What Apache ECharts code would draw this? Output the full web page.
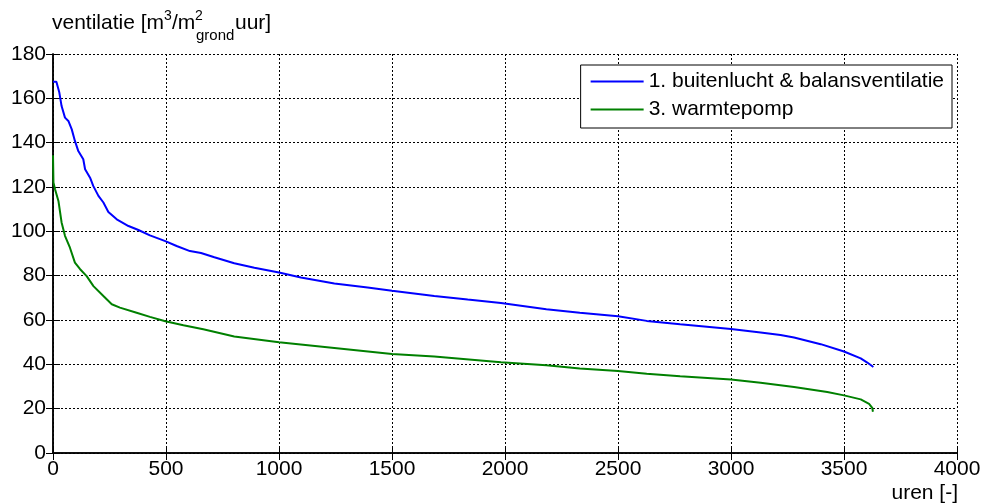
<!DOCTYPE html>
<html>
<head>
<meta charset="utf-8">
<script src="https://cdn.jsdelivr.net/npm/echarts@6/dist/echarts.min.js"></script>
<style>
  html, body { margin: 0; padding: 0; background: #fff; }
  #chart { width: 984px; height: 504px; }
</style>
</head>
<body>
<div id="chart"></div>
<script>
// duration curves (hours vs ventilation)
var blueHours = [0, 15, 28, 38, 53, 68, 83, 97, 112, 134, 142, 164, 178, 201, 223, 245, 282, 334, 378, 429,
    497, 547, 606, 655, 714, 802, 891, 1000, 1097, 1245, 1392, 1500, 1687, 1835, 1982, 2183, 2331, 2500,
    2627, 2775, 3000, 3131, 3219, 3279, 3397, 3500, 3574, 3603, 3630];
var blueVent = [167.5, 167.5, 162.6, 156.5, 151.3, 149.8, 146, 140.8, 136.2, 132.5, 128, 124.2, 120.5, 116, 113,
    108.7, 105.4, 102.4, 100.6, 98.2, 95.6, 93.4, 91.1, 90.2, 88.3, 85.6, 83.6, 81.4, 79.2, 76.5, 74.7, 73.2,
    70.8, 69.2, 67.7, 64.8, 63.3, 61.7, 59.6, 58.1, 55.9, 54.4, 53.2, 52.1, 49.1, 45.8, 42.7, 40.8, 38.8];

var greenHours = [0, 2, 9, 24, 38, 53, 75, 97, 120, 149, 179, 223, 260, 296, 370, 429, 497, 577, 665, 802,
    1000, 1245, 1500, 1687, 1982, 2183, 2331, 2500, 2627, 2775, 3000, 3131, 3279, 3426, 3500, 3574, 3611,
    3625, 3628];
var greenVent = [134.3, 122, 119, 113.7, 104, 98, 92.6, 85.9, 82.9, 79.8, 75.3, 70.8, 67.1, 65.6, 63.3, 61.4,
    59.4, 57.6, 55.8, 52.6, 50, 47.4, 44.7, 43.5, 40.9, 39.6, 38.1, 37.0, 35.8, 34.6, 33.2, 31.7, 29.8, 27.5,
    26.0, 24.2, 22.2, 20.4, 18.6];

var seriesNames = ['1. buitenlucht & balansventilatie', '3. warmtepomp'];
var seriesColors = ['#0000ff', '#008000'];

function pairs(xs, ys) {
    var out = [];
    for (var i = 0; i < xs.length; i++) {
        out.push([xs[i], ys[i]]);
    }
    return out;
}

var font = 'Liberation Sans, Arial, sans-serif';
var chart = echarts.init(document.getElementById('chart'));

// top and right axes only close the box (MATLAB style), ticks point inward
var boxAxis = {
    axisLine: { show: true, lineStyle: { color: '#000', width: 1.5 } },
    axisTick: { show: true, inside: true, length: 7, lineStyle: { color: '#000' } },
    axisLabel: { show: false },
    splitLine: { show: false }
};

chart.setOption({
    animation: false,
    grid: { left: 53, right: 27, top: 54, bottom: 51 },
    legend: {
        orient: 'vertical',
        right: 32,
        top: 65,
        data: seriesNames,
        selectedMode: false,
        icon: 'rect',
        backgroundColor: '#fff',
        borderColor: '#000',
        borderWidth: 1,
        padding: [6, 8, 8, 10],
        itemGap: 7,
        itemWidth: 53,
        itemHeight: 2,
        textStyle: { fontFamily: font, fontSize: 21, color: '#000', lineHeight: 21 }
    },
    xAxis: [{
        type: 'value', min: 0, max: 4000, interval: 500,
        axisLine: { show: true, onZero: false, lineStyle: { color: '#000', width: 1.5 } },
        axisTick: { show: true, inside: true, length: 7, lineStyle: { color: '#000' } },
        axisLabel: { color: '#000', fontFamily: font, fontSize: 21, margin: 6,
            formatter: function (v) { return String(v); } },
        splitLine: { show: true, lineStyle: { color: '#000', width: 1, type: [2, 2] } }
    }, Object.assign({ type: 'value', min: 0, max: 4000, interval: 500, position: 'top' }, boxAxis)],
    yAxis: [{
        type: 'value', min: 0, max: 180, interval: 20,
        axisLine: { show: true, onZero: false, lineStyle: { color: '#000', width: 1.5 } },
        axisTick: { show: true, inside: true, length: 7, lineStyle: { color: '#000' } },
        axisLabel: { color: '#000', fontFamily: font, fontSize: 21, margin: 7 },
        splitLine: { show: true, lineStyle: { color: '#000', width: 1, type: [2, 2] } }
    }, Object.assign({ type: 'value', min: 0, max: 180, interval: 20, position: 'right' }, boxAxis)],
    graphic: [
        { type: 'text', left: 52, top: 13, style: { text: 'ventilatie [m', fontFamily: font, fontSize: 21, fill: '#000' } },
        { type: 'text', left: 164, top: 9, style: { text: '3', fontFamily: font, fontSize: 14, fill: '#000' } },
        { type: 'text', left: 172, top: 13, style: { text: '/m', fontFamily: font, fontSize: 21, fill: '#000' } },
        { type: 'text', left: 195, top: 9, style: { text: '2', fontFamily: font, fontSize: 14, fill: '#000' } },
        { type: 'text', left: 196, top: 28, style: { text: 'grond', fontFamily: font, fontSize: 15, fill: '#000' } },
        { type: 'text', left: 235, top: 13, style: { text: 'uur]', fontFamily: font, fontSize: 21, fill: '#000' } },
        { type: 'text', right: 26, top: 483, style: { text: 'uren [-]', fontFamily: font, fontSize: 21, fill: '#000' } }
    ],
    series: [{
        name: seriesNames[0],
        type: 'line',
        data: pairs(blueHours, blueVent),
        symbol: 'none',
        color: seriesColors[0],
        lineStyle: { width: 2, color: seriesColors[0] }
    }, {
        name: seriesNames[1],
        type: 'line',
        data: pairs(greenHours, greenVent),
        symbol: 'none',
        color: seriesColors[1],
        lineStyle: { width: 2, color: seriesColors[1] }
    }]
});
</script>
</body>
</html>
